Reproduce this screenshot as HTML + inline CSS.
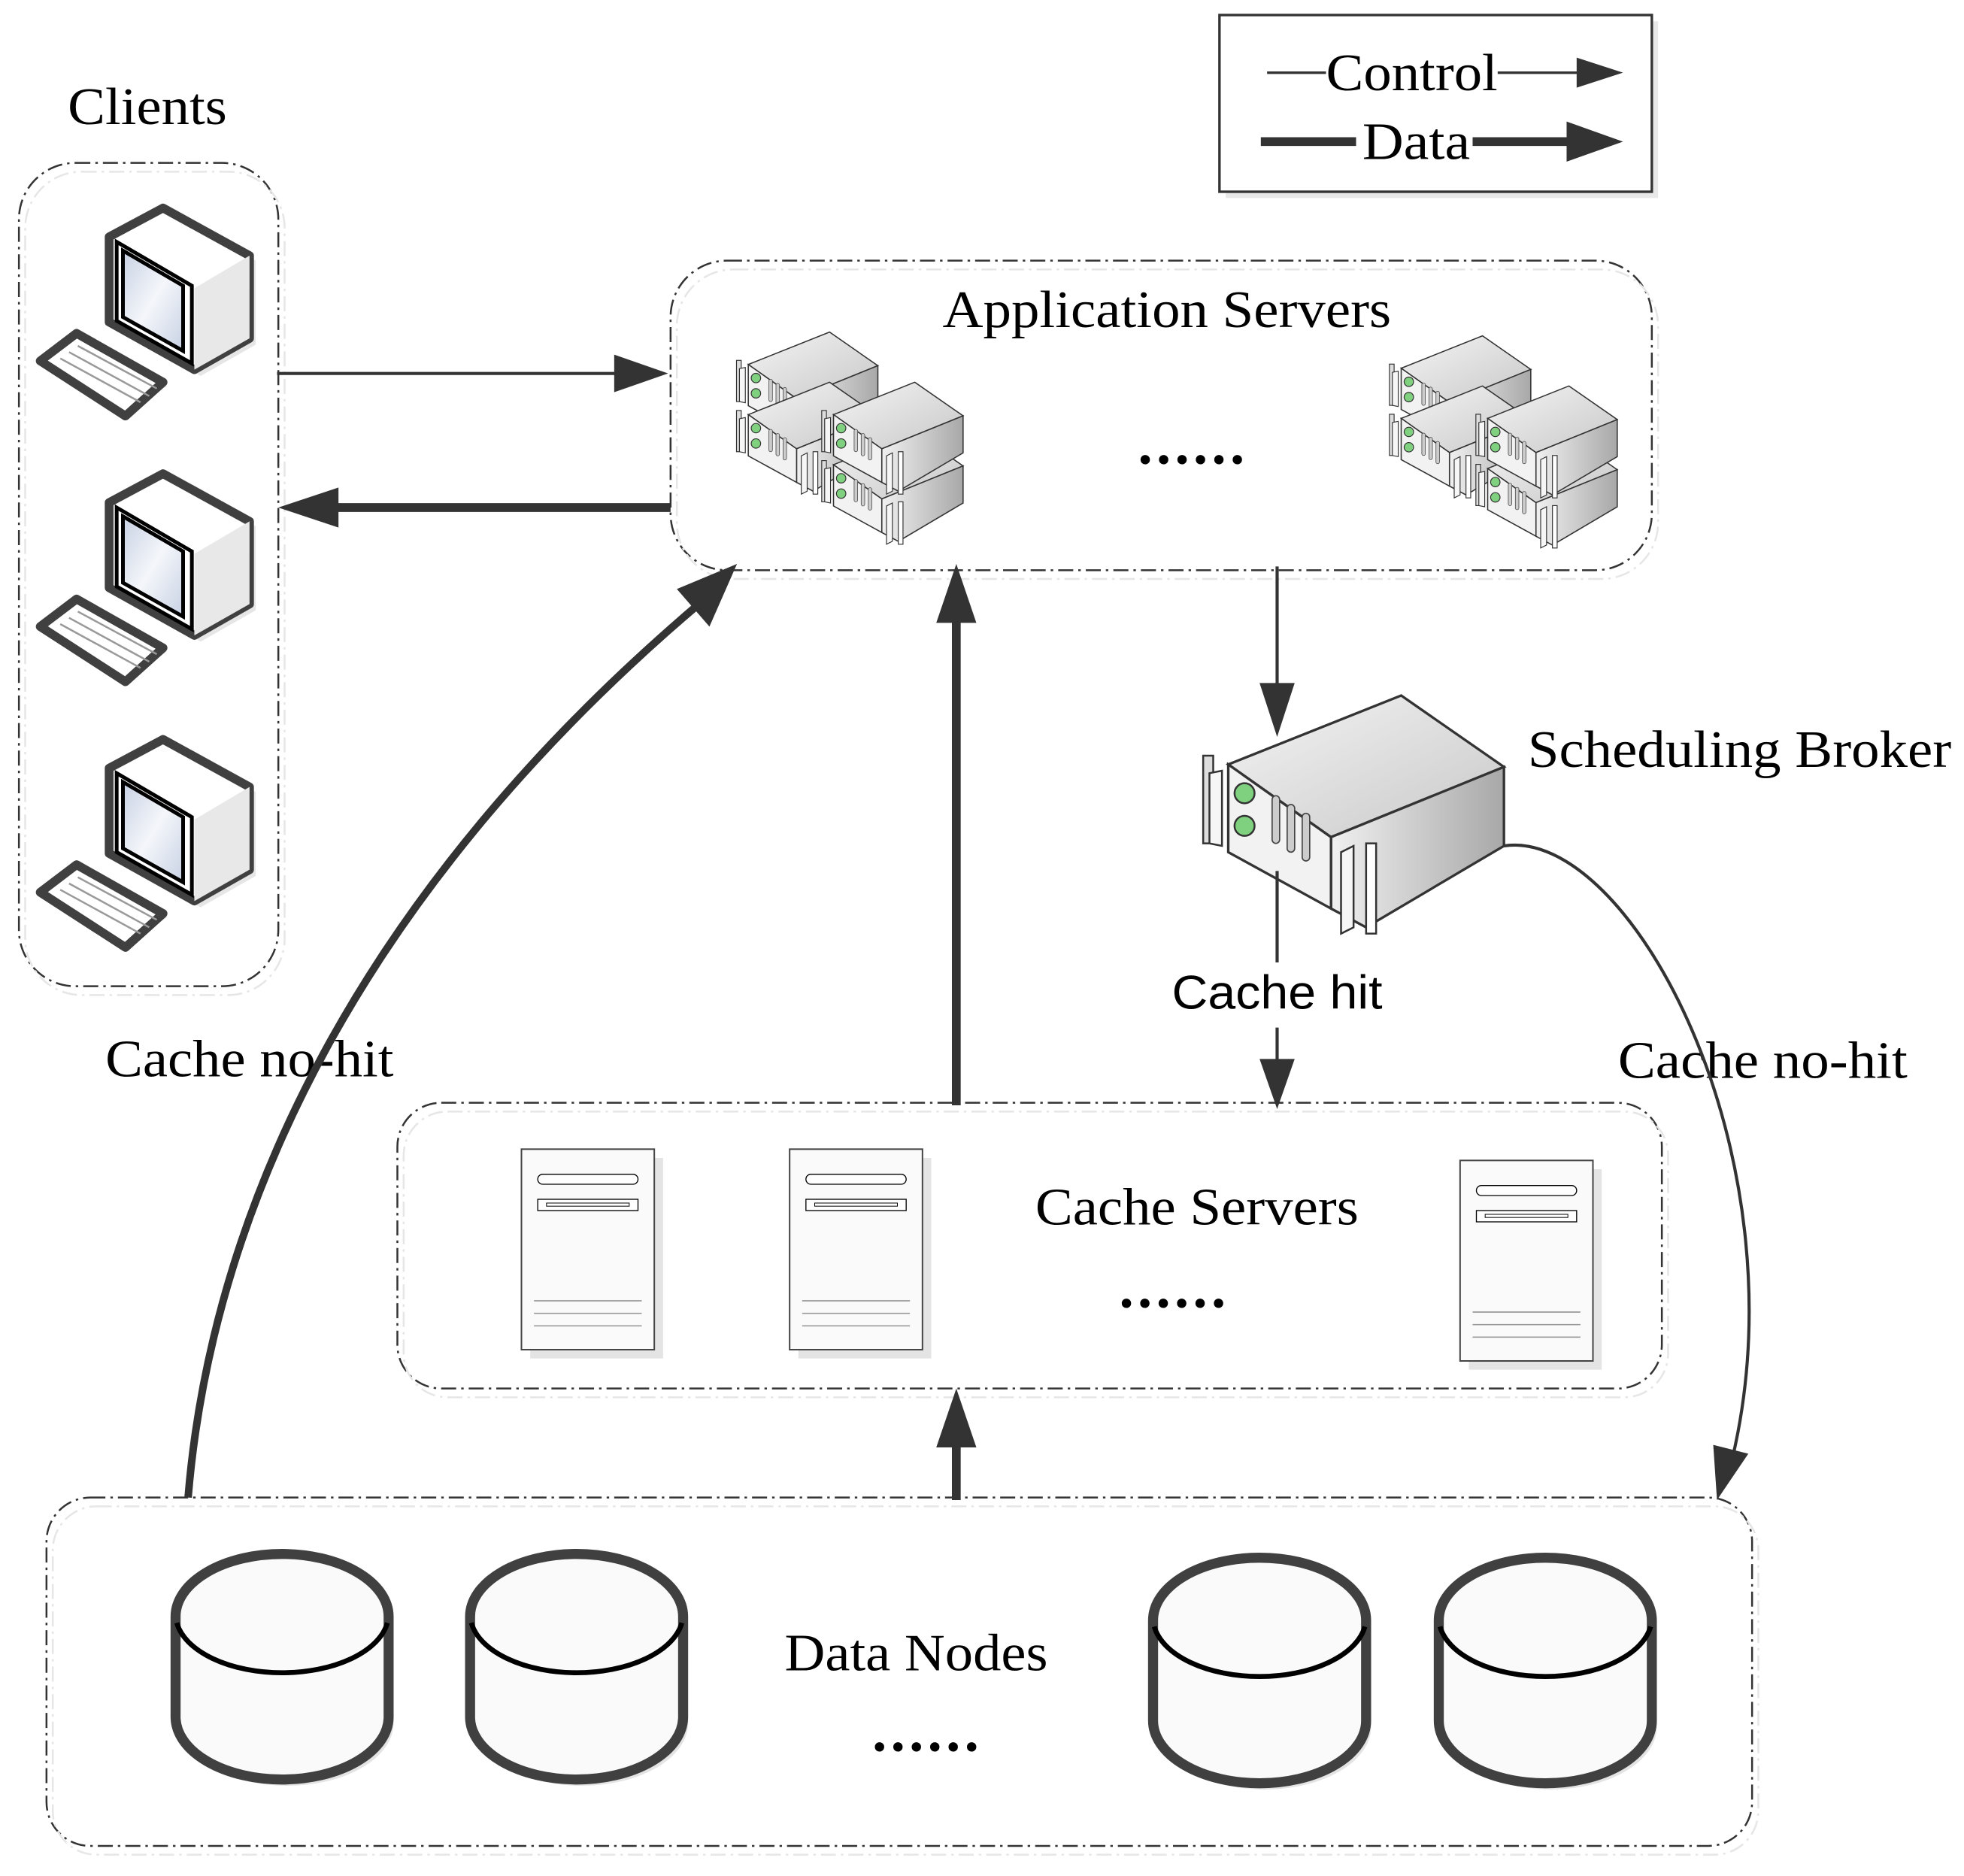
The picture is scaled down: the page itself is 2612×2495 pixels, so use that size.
<!DOCTYPE html>
<html><head><meta charset="utf-8"><style>html,body{margin:0;padding:0;background:#fff}svg{display:block}</style></head>
<body>
<svg xmlns="http://www.w3.org/2000/svg" width="2612" height="2495" viewBox="0 0 1567 1497">
<defs>
<linearGradient id="gt" x1="0" y1="0" x2="1" y2="1"><stop offset="0" stop-color="#f4f4f4"/><stop offset="1" stop-color="#c8c8c8"/></linearGradient>
<linearGradient id="gr" x1="0" y1="0" x2="1" y2="0"><stop offset="0" stop-color="#f0f0f0"/><stop offset="1" stop-color="#a8a8a8"/></linearGradient>
<linearGradient id="gs" x1="0" y1="0" x2="1" y2="1"><stop offset="0" stop-color="#c8d2e4"/><stop offset="0.5" stop-color="#f4f6fa"/><stop offset="1" stop-color="#c8d2e4"/></linearGradient>
<g id="pc">
 <polygon points="92,194 135,170 204,208 204,275 160,300 92,262" fill="#e6e6e6"/>
 <polygon points="87,189 130,166 199,204 199,270 155,295 87,257" fill="#fff" stroke="#404040" stroke-width="7" stroke-linejoin="round"/>
 <polygon points="155,230 199,204 199,270 155,295" fill="#e8e8e8"/>
 <polygon points="93,193 153,228 153,290 93,256" fill="none" stroke="#000" stroke-width="3"/>
 <polygon points="98,200 146,228 146,280 98,253" fill="url(#gs)" stroke="#000" stroke-width="3"/>
 <polygon points="36,291 62,271 133,308 104,329" fill="#e8e8e8"/>
 <polygon points="32,288 61,266 130,305 100,332" fill="#fff" stroke="#404040" stroke-width="7" stroke-linejoin="round"/>
 <g stroke="#999" stroke-width="1.5"><line x1="48" y1="286" x2="112" y2="321"/><line x1="55" y1="281" x2="119" y2="316"/><line x1="62" y1="276" x2="125" y2="310"/></g>
</g>
<g id="srv">
 <polygon points="0,55 138,0 220,57 82,113" fill="url(#gt)" stroke="#333" stroke-width="2"/>
 <polygon points="82,113 220,57 220,120 110,185 82,170" fill="url(#gr)" stroke="#333" stroke-width="2"/>
 <polygon points="0,55 82,113 82,170 0,125" fill="#f2f2f2" stroke="#333" stroke-width="2"/>
 <rect x="-20" y="48" width="8" height="70" fill="#ddd" stroke="#333" stroke-width="1.5"/>
 <polygon points="-15,62 -5,60 -5,120 -15,118" fill="#f6f6f6" stroke="#333" stroke-width="1.5"/>
 <circle cx="13" cy="78" r="8" fill="#7fd07f" stroke="#333" stroke-width="1.5"/>
 <circle cx="13" cy="104" r="8" fill="#7fd07f" stroke="#333" stroke-width="1.5"/>
 <g fill="#ccc" stroke="#444" stroke-width="1"><rect x="35" y="80" width="6" height="38" rx="3"/><rect x="47" y="87" width="6" height="38" rx="3"/><rect x="59" y="94" width="6" height="38" rx="3"/></g>
 <polygon points="90,125 100,120 100,185 90,190" fill="#f6f6f6" stroke="#333" stroke-width="1.5"/>
 <rect x="110" y="118" width="8" height="72" fill="#fff" stroke="#333" stroke-width="1.5"/>
</g>
<g id="tower">
 <rect x="7" y="7" width="106" height="160" fill="#e4e4e4"/>
 <rect x="0" y="0" width="106" height="160" fill="#fafafa" stroke="#444" stroke-width="1.2"/>
 <rect x="13" y="20" width="80" height="8" rx="4" fill="#fff" stroke="#000" stroke-width="0.8"/>
 <rect x="13" y="40" width="80" height="9" fill="#fff" stroke="#000" stroke-width="0.8"/>
 <rect x="20" y="43" width="66" height="2.5" fill="#fff" stroke="#000" stroke-width="0.6"/>
 <g stroke="#999" stroke-width="1"><line x1="10" y1="121" x2="96" y2="121"/><line x1="10" y1="131" x2="96" y2="131"/><line x1="10" y1="141" x2="96" y2="141"/></g>
</g>
<g id="cyl">
 <path d="M-81,50 L-81,130 A85,50 0 0 0 89,130 L89,50" fill="#e4e4e4"/>
 <path d="M-85,45 L-85,125 A85,50 0 0 0 85,125 L85,45 A85,50 0 0 0 -85,45 Z" fill="#fafafa" stroke="#404040" stroke-width="8"/>
 <path d="M-84,50 A85,47 0 0 0 84,50" fill="none" stroke="#000" stroke-width="4"/>
</g>
</defs>

<g fill="none" stroke="#333" stroke-width="1.5" stroke-dasharray="12,4,2,4">
 <rect x="15" y="130" width="207" height="657" rx="45"/>
 <rect x="535" y="208" width="783" height="247" rx="45"/>
 <rect x="317" y="880" width="1009" height="228" rx="35"/>
 <rect x="37" y="1195" width="1361" height="278" rx="35"/>
</g>
<g fill="none" stroke="#e6e6e6" stroke-width="1.5" stroke-dasharray="12,4,2,4">
 <rect x="20" y="137" width="207" height="657" rx="45"/>
 <rect x="540" y="215" width="783" height="247" rx="45"/>
 <rect x="322" y="887" width="1009" height="228" rx="35"/>
 <rect x="42" y="1202" width="1361" height="278" rx="35"/>
</g>

<rect x="978" y="17" width="345" height="141" fill="#e8e8e8"/>
<rect x="973" y="12" width="345" height="141" fill="#fff" stroke="#333" stroke-width="2"/>
<line x1="1011" y1="58" x2="1058" y2="58" stroke="#333" stroke-width="2"/>
<line x1="1195" y1="58" x2="1262" y2="58" stroke="#333" stroke-width="2"/>
<polygon points="1258,46 1295,58 1258,70" fill="#333"/>
<line x1="1006" y1="113" x2="1082" y2="113" stroke="#333" stroke-width="7"/>
<line x1="1175" y1="113" x2="1255" y2="113" stroke="#333" stroke-width="7"/>
<polygon points="1250,97 1295,113 1250,129" fill="#333"/>
<g font-family="Liberation Serif, serif" fill="#000">
 <text x="1058" y="72" font-size="42" textLength="137" lengthAdjust="spacingAndGlyphs">Control</text>
 <text x="1087" y="127" font-size="42" textLength="86" lengthAdjust="spacingAndGlyphs">Data</text>
 <text x="54" y="99" font-size="42" textLength="127" lengthAdjust="spacingAndGlyphs">Clients</text>
 <text x="752" y="261" font-size="42" textLength="358" lengthAdjust="spacingAndGlyphs">Application Servers</text>
 <text x="1219" y="612" font-size="42" textLength="338" lengthAdjust="spacingAndGlyphs">Scheduling Broker</text>
 <text x="84" y="859" font-size="42" textLength="230" lengthAdjust="spacingAndGlyphs">Cache no-hit</text>
 <text x="1291" y="860" font-size="42" textLength="231" lengthAdjust="spacingAndGlyphs">Cache no-hit</text>
 <text x="826" y="977" font-size="42" textLength="258" lengthAdjust="spacingAndGlyphs">Cache Servers</text>
 <text x="626" y="1333" font-size="42" textLength="210" lengthAdjust="spacingAndGlyphs">Data Nodes</text>
 <text x="908" y="370" font-size="46" font-weight="bold" textLength="85" lengthAdjust="spacing">......</text>
 <text x="893" y="1043" font-size="46" font-weight="bold" textLength="85" lengthAdjust="spacing">......</text>
 <text x="696" y="1397" font-size="46" font-weight="bold" textLength="85" lengthAdjust="spacing">......</text>
</g>
<text x="935" y="805" font-family="Liberation Sans, sans-serif" font-size="38" textLength="168" lengthAdjust="spacingAndGlyphs">Cache hit</text>

<use href="#pc"/>
<use href="#pc" y="212"/>
<use href="#pc" y="424"/>

<g transform="translate(597,265) scale(0.47)"><use href="#srv"/></g>
<g transform="translate(597,305) scale(0.47)"><use href="#srv"/></g>
<g transform="translate(665,345) scale(0.47)"><use href="#srv"/></g>
<g transform="translate(665,305) scale(0.47)"><use href="#srv"/></g>
<g transform="translate(1118,268) scale(0.47)"><use href="#srv"/></g>
<g transform="translate(1118,308) scale(0.47)"><use href="#srv"/></g>
<g transform="translate(1187,348) scale(0.47)"><use href="#srv"/></g>
<g transform="translate(1187,308) scale(0.47)"><use href="#srv"/></g>
<g transform="translate(980,555) scale(1)"><use href="#srv"/></g>

<use href="#tower" x="416" y="917"/>
<use href="#tower" x="630" y="917"/>
<use href="#tower" x="1165" y="926"/>

<use href="#cyl" x="225" y="1245"/>
<use href="#cyl" x="460" y="1245"/>
<use href="#cyl" x="1005" y="1248"/>
<use href="#cyl" x="1233" y="1248"/>

<g stroke="#333" fill="none">
 <line x1="221" y1="298" x2="495" y2="298" stroke-width="2.5"/>
 <line x1="535" y1="405" x2="265" y2="405" stroke-width="7"/>
 <path d="M150,1195 C170,950 300,700 560,480" stroke-width="6"/>
 <line x1="763" y1="882" x2="763" y2="495" stroke-width="7"/>
 <line x1="1019" y1="452" x2="1019" y2="548" stroke-width="2.5"/>
 <line x1="1019" y1="695" x2="1019" y2="768" stroke-width="2.5"/>
 <line x1="1019" y1="820" x2="1019" y2="848" stroke-width="2.5"/>
 <line x1="763" y1="1197" x2="763" y2="1150" stroke-width="7"/>
 <path d="M1200,675 C1300,660 1440,920 1382,1165" stroke-width="2.5"/>
</g>
<g fill="#333">
 <polygon points="490,283 533,298 490,313"/>
 <polygon points="270,389 222,405 270,421"/>
 <polygon points="540,470 588,450 566,500"/>
 <polygon points="747,497 763,450 779,497"/>
 <polygon points="1005,545 1019,588 1033,545"/>
 <polygon points="1005,845 1019,885 1033,845"/>
 <polygon points="747,1155 763,1108 779,1155"/>
 <polygon points="1367,1153 1370,1197 1395,1160"/>
</g>
</svg>
</body></html>
